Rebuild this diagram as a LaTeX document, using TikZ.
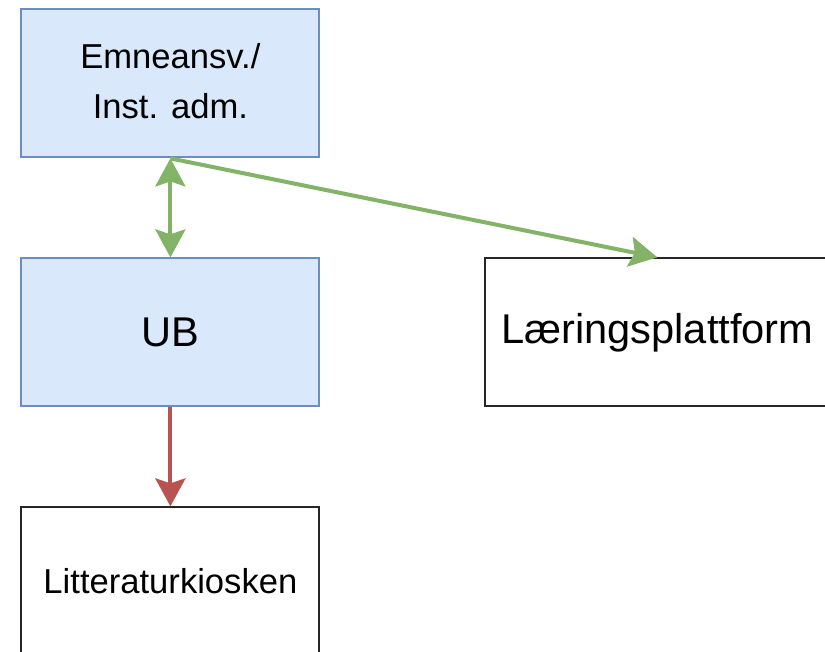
\documentclass[tikz,border=0pt]{standalone}
\usepackage{fontspec}
\setmainfont{Liberation Sans}
\usetikzlibrary{matrix}
\usetikzlibrary{arrows.meta}
\definecolor{boxfill}{HTML}{DAE8FC}
\definecolor{boxborder}{HTML}{6C8EBF}
\definecolor{arrowgreen}{HTML}{82B366}
\definecolor{arrowred}{HTML}{B85450}
\newcommand{\emnelabel}{\begin{tabular}{@{}c@{}}Emneansv./\\Inst. adm.\end{tabular}}

\begin{document}
\begin{tikzpicture}[
			     x=0.5pt, y=-0.5pt,
			     >={Stealth[length=14pt,width=15pt,inset=2.5pt]},
			     plain box/.style={draw=black!85, line width=1pt, minimum width=149pt, minimum height=74pt, align=center, font=\fontsize{17.3}{25}\selectfont},
			     blue box/.style={plain box, draw=boxborder, fill=boxfill},
			     big text/.style={font=\fontsize{20.8}{25}\selectfont},
			     green line/.style={draw=arrowgreen, line width=2pt},
			     red line/.style={draw=arrowred, line width=2pt}
			     ]
\useasboundingbox (0,0) rectangle (825,652);
\clip (0,0) rectangle (825,652);
\matrix (m) [matrix of nodes, anchor=north west, inner sep=0pt, row sep=49.5pt, column sep=82pt, nodes={anchor=center}] at (20,8) {%
  |[blue box]| \emnelabel&
\\
  |[blue box, big text]| UB& |[plain box, big text, minimum width=172pt]| Læringsplattform\\
  |[plain box]| Litteraturkiosken&
\\
};
\path (m-1-1.south) edge[green line, <->] (m-2-1.north);
\path (m-1-1.south) edge[green line, ->] (m-2-2.north);
\path (m-2-1.south) edge[red line, ->] (m-3-1.north);
\end{tikzpicture}
\end{document}
